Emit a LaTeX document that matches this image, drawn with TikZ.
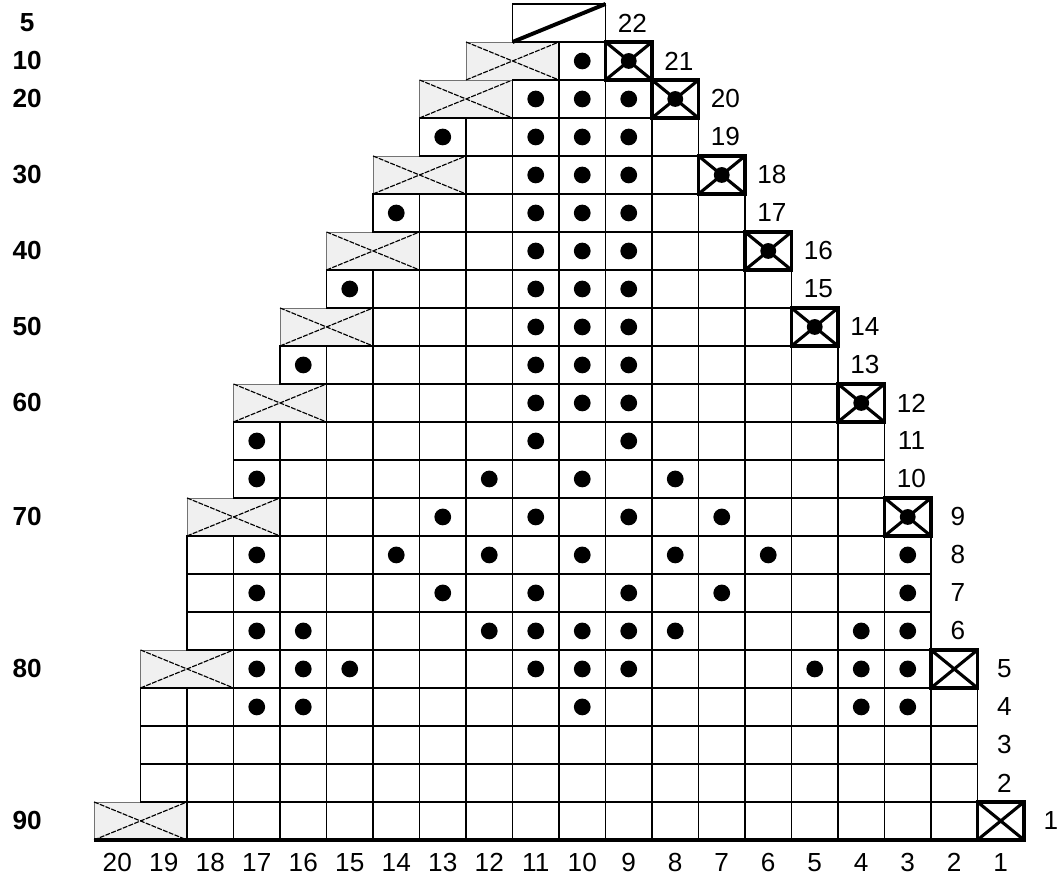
\documentclass[tikz,border=0pt]{standalone}
\usepackage{fontspec}
\setmainfont{Liberation Sans}

\begin{document}
\begin{tikzpicture}[x=1cm, y=0.8172cm,
  cell/.style={draw=black, line width=1.2pt, fill=white},
  decbox/.style={draw=black!55, line width=0.4pt, fill=black!6},
  decline/.style={black, line width=0.7pt, dash pattern=on 3pt off 0.8pt},
  crossbox/.style={draw=black, line width=1.9pt},
  knot/.style={fill=black},
  lbl/.style={font=\fontsize{16}{19}\selectfont, inner sep=0pt},
  sumlbl/.style={font=\fontsize{16}{19}\selectfont\bfseries, inner sep=0pt}]

  \useasboundingbox (-2.022,-1) rectangle (20.839,22.105);

  % Grey decrease blocks on the left edge
  \foreach \r/\c in {1/20,5/19,9/18,12/17,14/16,16/15,18/14,20/13,21/12} {
    \draw[decbox] (20-\c,\r-1) rectangle (22-\c,\r);
    \draw[decline] (20-\c,\r-1) -- (22-\c,\r) (20-\c,\r) -- (22-\c,\r-1);
  }

  % Plain cells, row by row
  \foreach \r/\a/\b in {1/2/18,2/2/19,3/2/19,4/2/19,5/3/17,6/3/18,7/3/18,8/3/18,
                        9/4/16,10/4/17,11/4/17,12/5/15,13/5/16,14/6/14,15/6/15,
                        16/7/13,17/7/14,18/8/12,19/8/13,20/9/11,21/10/10} {
    \foreach \c in {\a,...,\b}
      \draw[cell] (20-\c,\r-1) rectangle (21-\c,\r);
  }

  % Top block with diagonal
  \draw[cell] (9,21) rectangle (11,22);
  \draw[line width=2.4pt] (9,21) -- (11,22);

  % Dots
  \foreach \r/\cols in {4/{17,16,10,4,3}, 5/{17,16,15,11,10,9,5,4,3},
                        6/{17,16,12,11,10,9,8,4,3}, 7/{17,13,11,9,7,3},
                        8/{17,14,12,10,8,6,3}, 9/{13,11,9,7}, 10/{17,12,10,8},
                        11/{17,11,9}, 12/{11,10,9}, 13/{16,11,10,9}, 14/{11,10,9},
                        15/{15,11,10,9}, 16/{11,10,9}, 17/{14,11,10,9}, 18/{11,10,9},
                        19/{13,11,10,9}, 20/{11,10,9}, 21/{10}} {
    \foreach \c in \cols
      \fill[knot] (20.5-\c,\r-0.5) circle[radius=0.18cm];
  }

  % Crossed cells on the right edge
  \foreach \r/\c/\d in {1/1/0,5/2/0,9/3/1,12/4/1,14/5/1,16/6/1,18/7/1,20/8/1,21/9/1} {
    \draw[crossbox, fill=white] (20-\c,\r-1) rectangle (21-\c,\r);
    \draw[crossbox] (20-\c,\r-1) -- (21-\c,\r) (20-\c,\r) -- (21-\c,\r-1);
    \ifnum\d=1 \fill[knot] (20.5-\c,\r-0.5) circle[radius=0.17cm]; \fi
  }

  % Bottom rule
  \draw[line width=2.4pt] (0,0) -- (20,0);

  % Column numbers
  \foreach \c in {1,...,20}
    \node[lbl] (col\c) at (20.5-\c,-0.6) {\c};

  % Row numbers on the right
  \foreach \r/\e in {1/20,2/19,3/19,4/19,5/19,6/18,7/18,8/18,9/18,10/17,11/17,
                     12/17,13/16,14/16,15/15,16/15,17/14,18/14,19/13,20/13,21/12,22/11}
    \node[lbl] (row\r) at (\e+0.58,\r-0.5) {\r};

  % Stitch counts on the left
  \foreach \r/\t in {22/5,21/10,20/20,18/30,16/40,14/50,12/60,9/70,5/80,1/90}
    \node[sumlbl] (sum\t) at (-1.44,\r-0.5) {\t};
\end{tikzpicture}
\end{document}
